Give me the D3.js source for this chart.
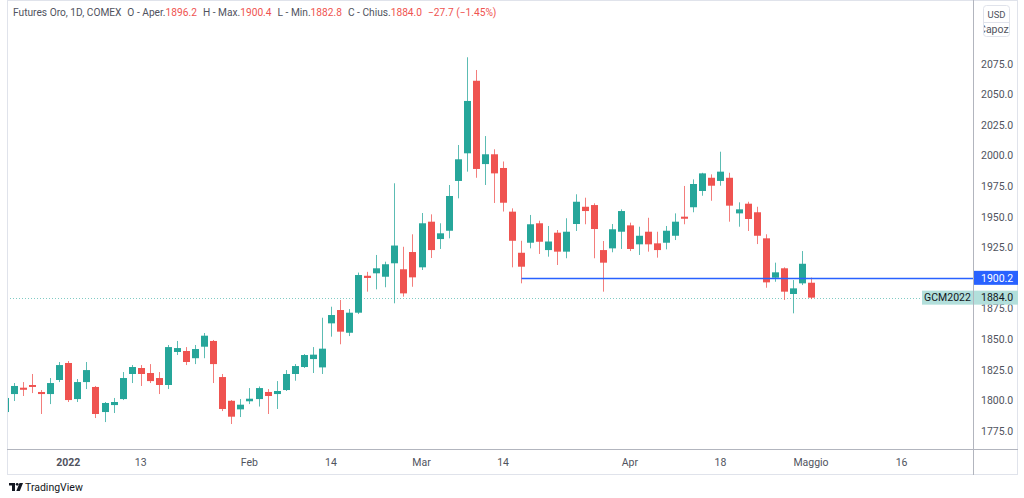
<!DOCTYPE html>
<html lang="it">
<head>
<meta charset="utf-8">
<title>Futures Oro 1D</title>
<script src="https://cdn.jsdelivr.net/npm/d3@7"></script>
<style>
  body { margin: 0; background: #fff; }
  text { font-family: Roboto, "Liberation Sans", sans-serif; }
</style>
</head>
<body>
<script>
// trading days (last 10 are empty future slots on the axis)
const days = [
  "2021-12-22","2021-12-23","2021-12-27","2021-12-28","2021-12-29","2021-12-30","2021-12-31",
  "2022-01-03","2022-01-04","2022-01-05","2022-01-06","2022-01-07","2022-01-10","2022-01-11","2022-01-12","2022-01-13","2022-01-14",
  "2022-01-18","2022-01-19","2022-01-20","2022-01-21","2022-01-24","2022-01-25","2022-01-26","2022-01-27","2022-01-28","2022-01-31",
  "2022-02-01","2022-02-02","2022-02-03","2022-02-04","2022-02-07","2022-02-08","2022-02-09","2022-02-10","2022-02-11","2022-02-14",
  "2022-02-15","2022-02-16","2022-02-17","2022-02-18","2022-02-22","2022-02-23","2022-02-24","2022-02-25","2022-02-28",
  "2022-03-01","2022-03-02","2022-03-03","2022-03-04","2022-03-07","2022-03-08","2022-03-09","2022-03-10","2022-03-11","2022-03-14",
  "2022-03-15","2022-03-16","2022-03-17","2022-03-18","2022-03-21","2022-03-22","2022-03-23","2022-03-24","2022-03-25","2022-03-28",
  "2022-03-29","2022-03-30","2022-03-31",
  "2022-04-01","2022-04-04","2022-04-05","2022-04-06","2022-04-07","2022-04-08","2022-04-11","2022-04-12","2022-04-13","2022-04-14",
  "2022-04-18","2022-04-19","2022-04-20","2022-04-21","2022-04-22","2022-04-25","2022-04-26","2022-04-27","2022-04-28","2022-04-29",
  "2022-05-02",
  "2022-05-03","2022-05-04","2022-05-05","2022-05-06","2022-05-09","2022-05-10","2022-05-11","2022-05-12","2022-05-13","2022-05-16"
]

const open = [1790.5,1805.2,1810.4,1812.6,1806.9,1805.2,1816.7,1830.6,1801.1,1815.0,
  1811.0,1790.5,1796.2,1801.1,1821.6,1826.5,1822.4,1818.3,1812.6,1839.6,
  1840.4,1834.5,1843.9,1848.6,1819.1,1799.7,1792.7,1799.3,1801.1,1806.9,
  1805.2,1808.5,1821.6,1827.3,1833.8,1827.0,1863.0,1873.9,1855.3,1871.7,
  1901.9,1903.9,1901.1,1912.1,1907.2,1921.3,1908.8,1946.1,1931.9,1938.7,
  1979.4,2002.0,2061.3,1993.2,2001.2,1990.0,1954.3,1920.7,1928.9,1944.8,
  1922.9,1937.1,1921.6,1944.2,1958.3,1959.7,1922.9,1924.3,1937.9,1943.1,
  1927.6,1937.9,1928.4,1928.9,1934.6,1950.2,1957.9,1971.2,1982.0,1979.4,
  1982.0,1952.9,1960.8,1953.8,1932.5,1900.3,1908.0,1887.0,1895.7,1896.2]
const high = [1802.8,1814.2,1815.0,1821.6,1808.5,1818.3,1831.4,1832.2,1817.5,1831.4,
  1811.8,1798.7,1802.0,1823.2,1828.9,1828.9,1829.7,1823.2,1845.3,1848.6,
  1843.6,1845.3,1855.1,1849.4,1821.6,1800.3,1801.1,1810.1,1811.4,1809.3,
  1815.8,1824.8,1829.7,1837.9,1843.6,1867.6,1876.6,1882.1,1874.7,1904.5,
  1905.1,1918.9,1913.4,1977.5,1925.6,1935.8,1953.2,1952.1,1944.8,1976.1,
  2008.8,2080.5,2070.1,2016.1,2005.3,1995.3,1957.0,1930.5,1951.6,1946.9,
  1942.6,1939.3,1948.9,1968.5,1965.7,1961.1,1930.3,1944.2,1956.2,1945.3,
  1942.0,1949.3,1937.9,1942.6,1952.9,1975.3,1980.7,1986.1,1984.8,2003.3,
  1986.1,1961.9,1962.4,1958.3,1935.8,1912.6,1908.8,1898.4,1922.1,1900.4]
const low = [1788.9,1799.5,1803.6,1806.0,1788.9,1797.0,1815.0,1798.7,1798.7,1809.3,
  1785.6,1782.3,1789.7,1800.3,1814.2,1811.8,1814.2,1805.2,1809.3,1837.1,
  1828.9,1829.7,1834.5,1814.2,1791.3,1780.7,1786.4,1797.0,1795.0,1788.9,
  1793.0,1807.7,1816.1,1826.5,1822.4,1821.6,1852.1,1845.9,1852.6,1870.6,
  1888.9,1890.8,1892.5,1879.4,1884.8,1892.9,1906.6,1916.4,1923.8,1932.5,
  1965.2,1987.0,1982.0,1976.1,1961.4,1954.4,1908.8,1895.7,1924.3,1919.7,
  1917.5,1910.7,1916.2,1938.5,1944.0,1916.2,1888.9,1921.1,1923.8,1922.1,
  1918.9,1921.6,1916.7,1923.5,1931.1,1944.0,1953.8,1967.3,1963.2,1975.5,
  1946.1,1942.0,1938.5,1927.8,1892.1,1897.0,1882.1,1871.2,1894.3,1882.8]
const close = [1802.0,1811.8,1808.7,1811.0,1805.2,1814.2,1828.9,1800.3,1815.0,1824.8,
  1788.9,1797.9,1798.7,1818.3,1827.3,1821.6,1815.8,1812.6,1843.6,1842.8,
  1831.4,1842.0,1852.9,1829.7,1793.0,1786.7,1796.5,1801.4,1810.1,1803.6,
  1807.7,1821.6,1828.1,1837.1,1837.4,1842.3,1869.8,1856.2,1871.7,1902.5,
  1900.1,1908.0,1911.3,1926.6,1887.5,1900.6,1944.8,1922.9,1936.6,1967.1,
  1997.1,2044.8,1989.2,2001.2,1985.6,1961.6,1930.5,1909.3,1944.0,1929.7,
  1929.9,1921.6,1937.9,1962.4,1954.8,1940.1,1912.6,1939.9,1954.8,1923.8,
  1934.6,1927.6,1922.9,1938.7,1946.1,1948.5,1976.9,1985.6,1975.5,1987.0,
  1959.2,1956.2,1948.3,1934.6,1896.5,1904.7,1888.9,1891.6,1911.7,1884.0]

const priceTicks = [1775,1800,1825,1850,1875,1900,1925,1950,1975,2000,2025,2050,2075]
const timeTickDays = ["2022-01-03","2022-01-13","2022-02-01","2022-02-14","2022-03-01","2022-03-14","2022-04-01","2022-04-18","2022-05-02","2022-05-16"]
const timeTickLabels = ["2022","13","Feb","14","Mar","14","Apr","18","Maggio","16"]

const hLineStart = "2022-03-16"
const hLineLevel = 1900.2
const lastPrice = 1884.0

const W = 1024, H = 498
const left = 7, right = 973, bottom = 449, outerRight = 1018, outerBottom = 475
const up = "#26a69a", down = "#ef5350", txt = "#50535e", border = "#e0e3eb"

const svg = d3.select("body").append("svg").attr("width", W).attr("height", H)

const x = d3.scaleLinear().domain([0, 89]).range([4.9, 811])
const y = d3.scaleLinear().domain([1775, 2075]).range([431, 64])

// frame
svg.append("rect").attr("x", left + 0.5).attr("y", 0.5)
  .attr("width", outerRight - left - 1).attr("height", outerBottom - 1)
  .attr("fill", "none").attr("stroke", border)
svg.append("line").attr("x1", right + 0.5).attr("x2", right + 0.5).attr("y1", 0).attr("y2", outerBottom)
  .attr("stroke", "#b2b5be")
svg.append("line").attr("x1", left).attr("x2", outerRight).attr("y1", bottom + 0.5).attr("y2", bottom + 0.5)
  .attr("stroke", "#b2b5be")

svg.append("clipPath").attr("id", "plot")
  .append("rect").attr("x", left + 1).attr("y", 0).attr("width", right - left - 1).attr("height", bottom)

const plot = svg.append("g").attr("clip-path", "url(#plot)")

// last price dotted line
plot.append("line")
  .attr("x1", left).attr("x2", right)
  .attr("y1", Math.round(y(lastPrice)) + 0.5).attr("y2", Math.round(y(lastPrice)) + 0.5)
  .attr("stroke", "#80cbc4").attr("stroke-dasharray", "1,2")

const bars = d3.range(open.length).map(i => ({i, o: open[i], h: high[i], l: low[i], c: close[i]}))
const bw = 7

plot.selectAll(".wick").data(bars).enter().append("line")
  .attr("class", "wick")
  .attr("x1", d => Math.round(x(d.i)) + 0.5).attr("x2", d => Math.round(x(d.i)) + 0.5)
  .attr("y1", d => y(d.h)).attr("y2", d => y(d.l))
  .attr("stroke", d => d.c >= d.o ? up : down)
  .attr("stroke-opacity", 0.75)

plot.selectAll(".body").data(bars).enter().append("rect")
  .attr("class", "body")
  .attr("x", d => Math.round(x(d.i)) + 0.5 - bw / 2)
  .attr("width", bw)
  .attr("y", d => y(Math.max(d.o, d.c)))
  .attr("height", d => Math.max(1, Math.abs(y(d.o) - y(d.c))))
  .attr("fill", d => d.c >= d.o ? up : down)

// horizontal ray
const ly = Math.round(y(hLineLevel)) + 0.5
plot.append("line")
  .attr("x1", Math.round(x(days.indexOf(hLineStart))) + 0.5).attr("x2", right)
  .attr("y1", ly).attr("y2", ly)
  .attr("stroke", "#2962ff").attr("stroke-width", 1.5)

// price axis
const pa = svg.append("g").attr("font-size", 10.5).attr("fill", txt)
pa.selectAll("text").data(priceTicks).enter().append("text")
  .attr("x", 981).attr("y", d => y(d)).attr("dy", "0.35em")
  .text(d => d3.format(".1f")(d))

// time axis
const ta = svg.append("g").attr("font-size", 10.5).attr("fill", txt).attr("text-anchor", "middle")
ta.selectAll("text").data(timeTickDays).enter().append("text")
  .attr("x", d => x(days.indexOf(d)))
  .attr("y", 466)
  .attr("font-weight", (d, i) => i === 0 ? "bold" : null)
  .text((d, i) => timeTickLabels[i])

// price labels on axis
function axisLabel(v, bg, fg) {
  const g = svg.append("g")
  g.append("rect").attr("x", right + 1).attr("y", y(v) - 7).attr("width", outerRight - right - 1).attr("height", 14)
    .attr("fill", bg)
  g.append("text").attr("x", 981).attr("y", y(v)).attr("dy", "0.35em")
    .attr("font-size", 10.5).attr("fill", fg).text(d3.format(".1f")(v))
}
axisLabel(hLineLevel, "#2962ff", "#ffffff")
axisLabel(lastPrice, "#b2dfdb", "#131722")

svg.append("rect").attr("x", 922).attr("y", y(lastPrice) - 7).attr("width", right - 922).attr("height", 14)
  .attr("fill", "#b2dfdb")
svg.append("text").attr("x", 947.5).attr("y", y(lastPrice)).attr("dy", "0.35em")
  .attr("text-anchor", "middle").attr("font-size", 10.5).attr("fill", "#131722").text("GCM2022")

// currency box
svg.append("clipPath").attr("id", "cur").append("rect")
  .attr("x", 983).attr("y", 5).attr("width", 27).attr("height", 32).attr("rx", 3)
const cur = svg.append("g").attr("clip-path", "url(#cur)")
cur.append("text").attr("x", 996.5).attr("y", 18).attr("text-anchor", "middle")
  .attr("font-size", 9.5).attr("fill", txt).text("USD")
cur.append("line").attr("x1", 983).attr("x2", 1010).attr("y1", 22.5).attr("y2", 22.5).attr("stroke", border)
cur.append("text").attr("x", 996.5).attr("y", 33).attr("text-anchor", "middle")
  .attr("font-size", 10.5).attr("fill", txt).text("(Capozz)")
svg.append("rect").attr("x", 983.5).attr("y", 5.5).attr("width", 26).attr("height", 31).attr("rx", 3)
  .attr("fill", "none").attr("stroke", border)

// header legend
const head = svg.append("text").attr("x", 13).attr("y", 16).attr("font-size", 10.2).attr("fill", txt)
const parts = [
  ["Futures Oro, 1D, COMEX", txt, 0],
  ["O - Aper.", txt, 6], ["1896.2", down, 0],
  ["H - Max.", txt, 6], ["1900.4", down, 0],
  ["L - Min.", txt, 6], ["1882.8", down, 0],
  ["C - Chius.", txt, 6], ["1884.0", down, 0],
  ["\u221227.7 (\u22121.45%)", down, 6]
]
parts.forEach(p => head.append("tspan").attr("dx", p[2]).attr("fill", p[1]).text(p[0]))

// TradingView mark
const logo = svg.append("g").attr("fill", "#131722")
logo.append("rect").attr("x", 9).attr("y", 483).attr("width", 6).attr("height", 2.5)
logo.append("rect").attr("x", 12).attr("y", 483).attr("width", 3).attr("height", 8)
logo.append("circle").attr("cx", 17.2).attr("cy", 484.3).attr("r", 1.4)
logo.append("path").attr("d", "M19.5,483 L23,483 L19.8,491 L16.3,491 Z")
svg.append("text").attr("x", 25).attr("y", 491).attr("font-size", 10.5).attr("fill", "#131722").text("TradingView")
</script>
</body>
</html>
